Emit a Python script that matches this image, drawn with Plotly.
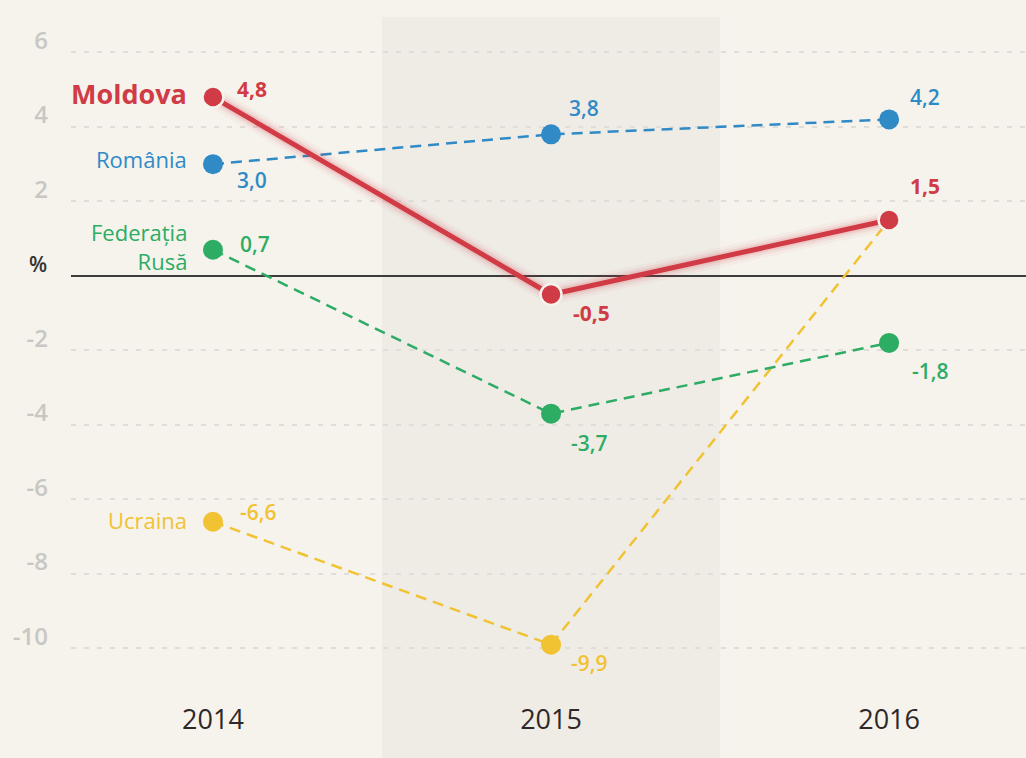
import plotly.graph_objects as go

years = [2014, 2015, 2016]
moldova = [4.8, -0.5, 1.5]
romania = [3.0, 3.8, 4.2]
rusia = [0.7, -3.7, -1.8]
ucraina = [-6.6, -9.9, 1.5]
y_ticks = [6, 4, 2, -2, -4, -6, -8, -10]

BG = "#f6f3ed"
BAND = "#efece6"
RED = "#d13b45"
BLUE = "#2f8ac6"
GREEN = "#2dac64"
YELLOW = "#f1c232"
FONT = "Open Sans"

def fmt(v):
    return f"{v:.1f}".replace(".", ",")

fig = go.Figure()

dashed = [(ucraina, YELLOW), (rusia, GREEN), (romania, BLUE)]
for vals, col in dashed:
    fig.add_trace(go.Scatter(x=years, y=vals, mode="lines+markers",
                             line=dict(color=col, width=2.5, dash="11px,7px"),
                             marker=dict(color=col, size=20),
                             hoverinfo="skip", showlegend=False))

# glow for Moldova
for w, op in [(20, 0.04), (14, 0.07), (9, 0.12)]:
    fig.add_trace(go.Scatter(x=years, y=moldova, mode="lines",
                             line=dict(color=RED, width=w), opacity=op,
                             hoverinfo="skip", showlegend=False))
fig.add_trace(go.Scatter(x=years, y=moldova, mode="lines+markers",
                         line=dict(color=RED, width=5),
                         marker=dict(color=RED, size=21, line=dict(color=BG, width=2.5)),
                         hoverinfo="skip", showlegend=False))

# value labels: (values, color, bold, offsets per point)
labels = [
    (moldova, RED, True, [(39, 8), (40, -18), (36, 34)]),
    (romania, BLUE, False, [(39, -16), (33, 26), (36, 22)]),
    (rusia, GREEN, False, [(42, 6), (38, -29), (41, -28)]),
    (ucraina, YELLOW, False, [(45, 10), (38, -18), None]),
]
for vals, col, bold, offs in labels:
    for xv, yv, off in zip(years, vals, offs):
        if off is None:
            continue
        fig.add_annotation(x=xv, y=yv, xref="x", yref="y", text=fmt(yv),
                           showarrow=False, xshift=off[0], yshift=off[1],
                           font=dict(family=FONT, size=21, color=col,
                                     weight=700 if bold else 600))

# series names
names = [
    ("Moldova", moldova[0], RED, 27, 700, 4),
    ("România", romania[0], BLUE, 22, 400, 5),
    ("Federația<br>Rusă", rusia[0], GREEN, 22, 400, 3),
    ("Ucraina", ucraina[0], YELLOW, 22, 400, 2),
]
for txt, yv, col, sz, wt, ys in names:
    fig.add_annotation(x=years[0], y=yv, xref="x", yref="y", text=txt,
                       showarrow=False, xanchor="right", align="right",
                       xshift=-24, yshift=ys,
                       font=dict(family=FONT, size=sz, color=col, weight=wt))

fig.add_annotation(x=0, y=0, xref="paper", yref="y", text="%", showarrow=False,
                   xanchor="right", xshift=-22, yshift=12,
                   font=dict(family=FONT, size=21, color="#333333", weight=600))

fig.add_shape(type="rect", xref="x", yref="paper", x0=2014.5, x1=2015.5,
              y0=-0.2, y1=1, fillcolor=BAND, line=dict(width=0), layer="below")

fig.update_layout(
    width=1026, height=758,
    margin=dict(l=71, r=0, t=17, b=75),
    paper_bgcolor=BG, plot_bgcolor=BG,
    xaxis=dict(range=[2013.58, 2016.405], tickvals=years,
               ticktext=[str(y) for y in years], showgrid=False,
               zeroline=False, showline=False, ticks="",
               ticklabelstandoff=18,
               tickfont=dict(family="Liberation Sans Narrow, Open Sans", size=27,
                             color="#2f2828", weight=400)),
    yaxis=dict(range=[-10.93, 6.95], tickvals=y_ticks,
               ticktext=[str(v) for v in y_ticks],
               showgrid=True, gridcolor="#e0ddd8", gridwidth=2,
               griddash="5px,8px", zeroline=True, zerolinecolor="#3c3c3c",
               zerolinewidth=2, showline=False, ticks="",
               ticklabelstandoff=22, ticklabelshift=-12,
               tickfont=dict(family=FONT, size=24, color="#c9c7c3", weight=600)),
)

fig.write_html("out.html", config={"displayModeBar": False},
               post_script="document.body.style.margin='0';document.body.style.padding='0';document.body.style.overflow='hidden';")
